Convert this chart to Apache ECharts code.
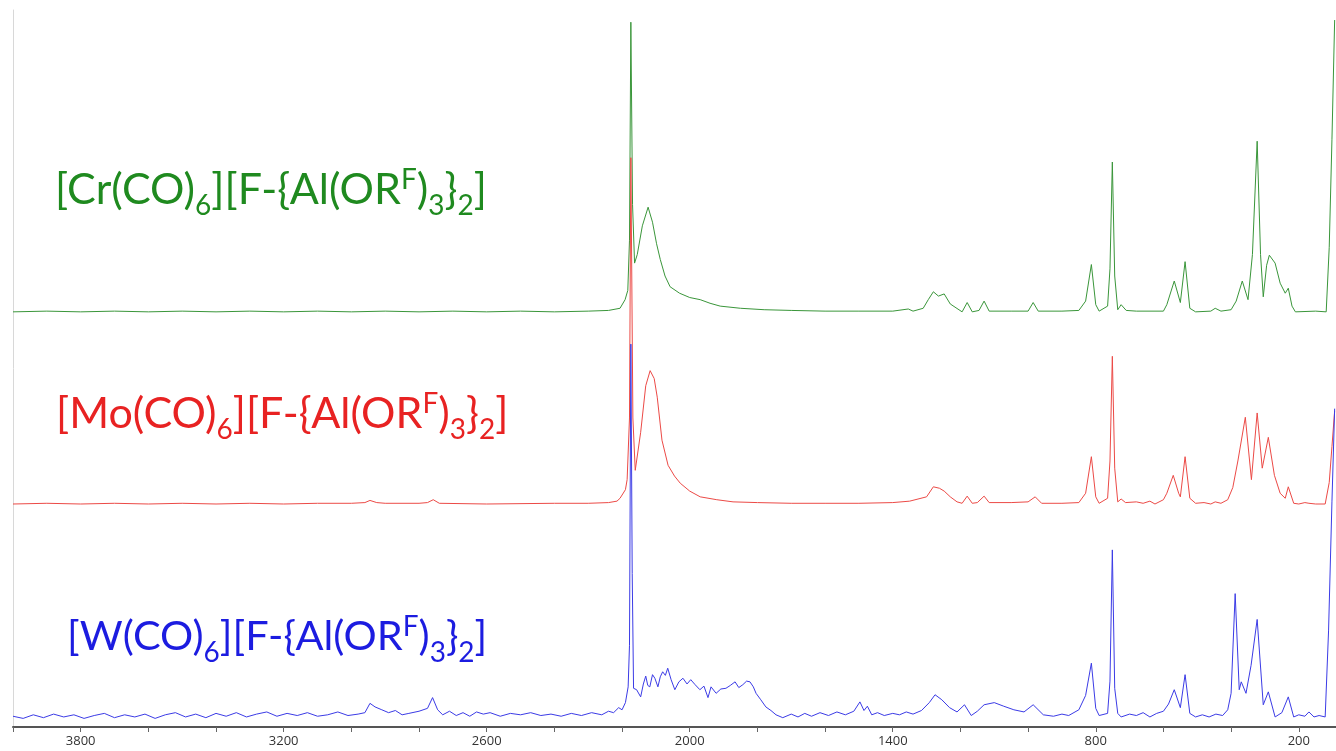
<!DOCTYPE html>
<html>
<head>
<meta charset="utf-8">
<script src="https://cdn.jsdelivr.net/npm/echarts@6/dist/echarts.min.js"></script>
<style>
html,body{margin:0;padding:0;background:#fff;}
#chart{width:1336px;height:751px;}
</style>
</head>
<body>
<div id="chart"></div>
<script>
// ---- DATA ----
const seriesNames = ['Cr', 'Mo', 'W'];
const baselines = [57.9, 31.1, 1.4]; // vertical offsets of each trace (relative intensity)
const labelTicks = [3800, 3200, 2600, 2000, 1400, 800, 200];
const minorTicks = [4000,3800,3600,3400,3200,3000,2800,2600,2400,2200,2000,1800,1600,1400,1200,1000,800,600,400,200];

// [wavenumber, intensity above baseline]
const crSpectrum = [
[4000,0.0],[3900,0.1],[3800,0.0],[3700,0.1],[3600,0.0],[3500,0.1],[3400,0.0],[3300,0.1],[3200,0.0],[3100,0.1],
[3000,0.0],[2900,0.1],[2800,0.0],[2700,0.1],[2600,0.0],[2500,0.1],[2400,0.0],[2300,0.1],[2240,0.2],[2206,0.5],
[2191,1.7],[2183,3],[2178,10],[2174,40.4],[2169,15],[2163,6.8],[2155,8],[2140,12],[2123,14.6],[2110,12.5],
[2098,9.5],[2087,7.3],[2073,5],[2058,3.5],[2030,2.6],[2000,2.0],[1969,1.7],[1940,1.2],[1910,0.8],[1850,0.5],
[1780,0.3],[1700,0.2],[1600,0.1],[1500,0.1],[1400,0.1],[1354,0.4],[1340,0.1],[1310,0.5],[1295,1.7],[1280,2.8],
[1265,2.2],[1248,2.5],[1230,1.1],[1195,0.0],[1180,1.3],[1165,0.0],[1145,0.2],[1130,1.5],[1115,0.1],[1050,0.1],
[1000,0.1],[985,1.3],[970,0.1],[900,0.1],[850,0.2],[830,1.5],[813,6.6],[800,1.0],[790,0.1],[765,0.8],
[758,6],[751,20.9],[744,5],[735,0.3],[725,1.0],[710,0.2],[680,0.1],[600,0.1],[590,1.0],[568,4.3],
[550,1.3],[536,7.0],[522,0.5],[505,0.0],[460,0.1],[447,0.5],[430,0.1],[400,0.3],[385,1.5],[367,4.3],
[350,1.7],[337,8],[323,23.8],[313,8],[305,2.1],[295,6.5],[287,7.9],[270,6.8],[255,4.0],[240,2.6],
[231,3.3],[220,0.8],[210,0.0],[150,0.1],[119,0.0],[110,9],[102,24],[94,40.7]
];

const moSpectrum = [
[4000,0.0],[3900,0.1],[3800,0.0],[3700,0.1],[3600,0.0],[3500,0.1],[3400,0.0],[3300,0.1],[3200,0.0],[3100,0.1],
[3000,0.1],[2960,0.2],[2945,0.5],[2925,0.2],[2900,0.1],[2800,0.1],[2775,0.2],[2758,0.6],[2740,0.1],[2600,0.0],
[2400,0.1],[2300,0.1],[2240,0.2],[2215,0.4],[2206,0.8],[2190,2.0],[2185,3.4],[2178,12],[2174,48.3],[2168,12],
[2161,4.7],[2145,10],[2130,16.5],[2117,18.6],[2105,17.5],[2096,14.9],[2082,8.9],[2064,5.4],[2045,3.9],[2028,2.9],
[2000,1.8],[1969,1.0],[1920,0.6],[1872,0.3],[1800,0.2],[1700,0.1],[1600,0.1],[1500,0.1],[1400,0.2],[1350,0.4],
[1300,1.0],[1280,2.4],[1262,2.2],[1248,1.8],[1230,1.0],[1210,0.3],[1195,0.1],[1180,1.1],[1165,0.1],[1150,0.2],
[1130,1.1],[1115,0.2],[1050,0.2],[1000,0.3],[979,1.0],[960,0.1],[900,0.1],[850,0.2],[830,1.5],[813,6.6],
[800,1.0],[790,0.1],[765,0.8],[758,6],[751,20.6],[744,5],[735,0.3],[725,0.7],[712,0.2],[680,0.3],
[660,0.1],[640,0.4],[625,0.0],[600,0.6],[590,1.5],[571,4.0],[555,1.5],[550,1.0],[536,6.6],[522,0.8],
[505,0.1],[480,0.2],[460,0.0],[447,0.3],[430,0.1],[410,0.6],[395,2.3],[380,6.0],[358,12.1],[340,3.4],
[323,12.7],[308,5.0],[290,9.3],[272,4.0],[255,1.5],[240,0.8],[231,2.4],[215,0.1],[200,0.0],[182,0.2],
[170,0.1],[150,0.0],[122,0.0],[110,3],[102,8],[94,13]
];

const wSpectrum = [
[4000,0.1],[3970,-0.2],[3940,0.3],[3910,-0.1],[3880,0.4],[3850,0.0],[3820,0.3],[3790,-0.2],[3760,0.2],[3730,0.5],
[3700,-0.1],[3670,0.3],[3640,0.0],[3610,0.4],[3580,-0.2],[3550,0.3],[3520,0.6],[3490,0.0],[3460,0.4],[3430,-0.1],
[3400,0.5],[3370,0.1],[3340,0.6],[3310,0.0],[3280,0.4],[3250,0.7],[3220,0.1],[3190,0.5],[3160,0.2],[3130,0.6],
[3100,0.1],[3070,0.3],[3040,0.7],[3010,0.2],[2980,0.4],[2960,0.6],[2945,1.9],[2930,1.4],[2910,1.0],[2890,0.6],
[2870,0.9],[2850,0.3],[2830,0.5],[2800,0.8],[2775,1.2],[2760,2.7],[2745,1.0],[2730,0.3],[2710,0.8],[2690,0.2],
[2670,0.6],[2650,0.1],[2630,0.7],[2610,0.4],[2590,0.6],[2560,0.1],[2530,0.5],[2500,0.3],[2470,0.6],[2440,0.2],
[2410,0.4],[2380,0.1],[2350,0.5],[2320,0.2],[2290,0.6],[2260,0.3],[2240,0.8],[2225,0.6],[2210,1.3],[2200,1.0],
[2190,2.0],[2182,4.2],[2178,10],[2174,52.0],[2170,20],[2166,4.0],[2157,3.8],[2145,2.8],[2137,4.6],[2130,5.7],
[2124,4.4],[2118,4.2],[2110,5.9],[2103,5.4],[2094,4.2],[2087,5.6],[2080,6.3],[2072,5.8],[2065,6.8],[2055,5.2],
[2044,3.8],[2032,4.9],[2020,5.4],[2008,4.6],[1997,5.2],[1984,4.5],[1970,3.8],[1958,4.3],[1946,2.7],[1937,4.2],
[1922,3.3],[1908,3.9],[1893,4.0],[1880,4.4],[1866,4.9],[1855,4.1],[1843,4.5],[1832,5.0],[1822,4.9],[1812,4.2],
[1804,3.3],[1790,2.4],[1775,1.4],[1760,0.9],[1745,0.3],[1725,-0.1],[1700,0.4],
[1680,0.0],[1660,0.5],[1640,0.1],[1615,0.6],[1590,0.2],[1565,0.7],[1540,0.3],[1515,0.8],[1497,2.1],[1485,0.9],
[1475,1.5],[1462,0.3],[1445,0.6],[1425,0.2],[1400,0.5],[1380,0.3],[1360,0.7],[1340,0.4],[1315,0.9],[1292,2.0],
[1275,3.1],[1255,2.4],[1232,1.3],[1210,0.7],[1188,1.7],[1168,0.2],[1150,0.8],[1130,1.7],[1100,2.0],[1072,1.5],
[1042,1.0],[1012,0.7],[985,1.7],[955,0.3],[925,0.1],[900,0.4],[880,0.2],[850,1.0],[830,3.0],[813,7.5],
[800,1.2],[790,0.2],[765,0.5],[758,5],[751,23.3],[744,4],[735,0.5],[725,0.0],[700,0.4],[680,0.2],
[660,0.6],[640,0.0],[620,0.5],[600,0.8],[585,1.8],[568,3.8],[550,1.3],[536,5.9],[522,0.5],[505,0.0],
[485,0.3],[465,0.0],[445,0.4],[425,0.2],[410,1.0],[400,3.3],[388,17.2],[376,3.8],[370,4.9],[356,3.3],
[341,7.2],[323,13.6],[305,1.7],[290,3.5],[270,0.0],[250,0.6],[231,2.8],[215,0.0],[200,0.3],[182,0.1],
[170,0.7],[155,0.0],[140,0.2],[122,0.0],[112,12],[102,30],[94,43]
];

const spectra = [crSpectrum, moSpectrum, wSpectrum];
const lineColors = ['#3a963a', '#ec4a46', '#3b3be6'];
const textColors = ['#1f8a1f', '#e82222', '#1c1ce0'];
const labels = [
  '[Cr(CO){sub|6}][F-{Al(OR{sup|F}){sub|3}}{sub|2}]',
  '[Mo(CO){sub|6}][F-{Al(OR{sup|F}){sub|3}}{sub|2}]',
  '[W(CO){sub|6}][F-{Al(OR{sup|F}){sub|3}}{sub|2}]'
];

// ---- CHART ----
const chart = echarts.init(document.getElementById('chart'), null, {renderer: 'canvas'});
const labelPos = [[55, 160], [56, 384], [67, 607]];
const labelSize = [43, 43, 41.5];
const fontFam = 'Lato, "Open Sans", sans-serif';

const graphics = labels.map((t, i) => ({
  type: 'text',
  left: labelPos[i][0],
  top: labelPos[i][1],
  silent: true,
  style: {
    text: t,
    fill: textColors[i],
    fontFamily: fontFam,
    fontSize: labelSize[i],
    lineHeight: 60,
    rich: {
      sub: {fontSize: 28, fontFamily: fontFam, fill: textColors[i], verticalAlign: 'bottom', lineHeight: 30},
      sup: {fontSize: 28, fontFamily: fontFam, fill: textColors[i], verticalAlign: 'top', lineHeight: 30, padding: [6, 0, 0, 0]}
    }
  }
}));

chart.setOption({
  animation: false,
  backgroundColor: '#ffffff',
  grid: {left: 13, right: 0, top: 10, bottom: 24, containLabel: false},
  xAxis: {
    type: 'value',
    inverse: true,
    min: 90,
    max: 4000,
    axisLine: {show: true, lineStyle: {color: '#555555', width: 2}},
    axisTick: {show: true, customValues: minorTicks, length: 5, lineStyle: {color: '#666666', width: 1}},
    axisLabel: {show: true, customValues: labelTicks, color: '#333333', fontSize: 13,
      fontFamily: '"Open Sans", sans-serif', margin: 8, formatter: v => String(v)},
    splitLine: {show: false}
  },
  yAxis: {
    type: 'value',
    min: 0,
    max: 100,
    axisLine: {show: true, lineStyle: {color: '#d8d8d8', width: 1}},
    axisTick: {show: false},
    axisLabel: {show: false},
    splitLine: {show: false}
  },
  series: [0, 1, 2].map(i => ({
    name: seriesNames[i],
    type: 'line',
    symbol: 'none',
    smooth: false,
    z: 2 + i,
    lineStyle: {color: lineColors[i], width: 1},
    data: spectra[i].map(p => [p[0], p[1] + baselines[i]])
  })),
  graphic: graphics
});
</script>
</body>
</html>
